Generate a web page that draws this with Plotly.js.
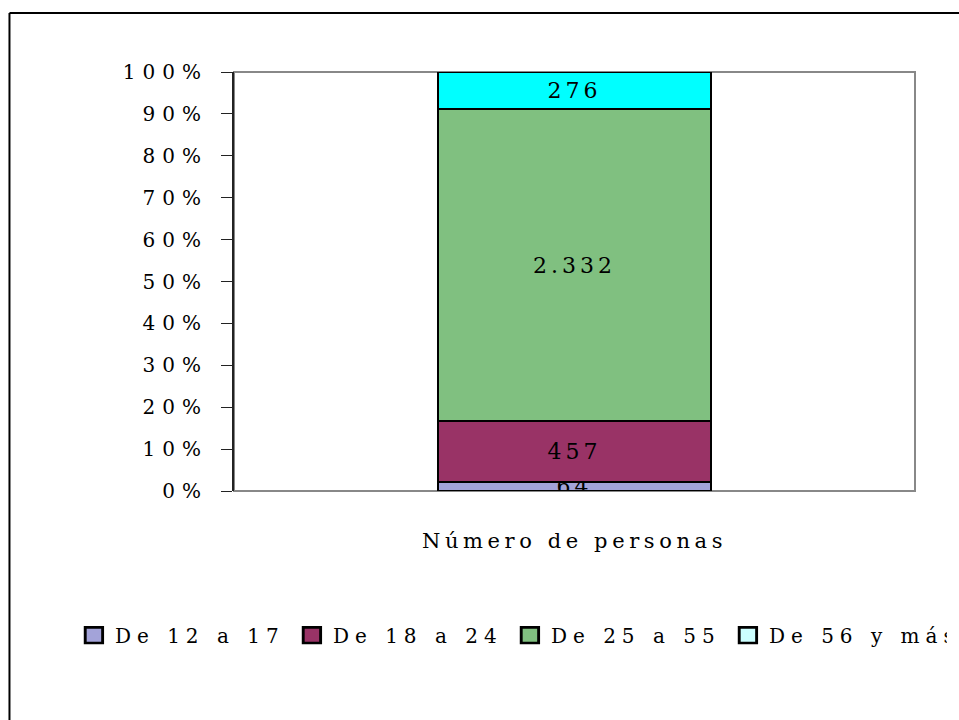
<!DOCTYPE html>
<html>
<head>
<meta charset="utf-8">
<script src="https://cdn.plot.ly/plotly-3.0.1.min.js"></script>
<style>
  html, body { margin: 0; padding: 0; background: #fff; }
  #chart { width: 959px; height: 720px; }
  #chart .ytick text { letter-spacing: 7px; }
  #chart .xtick text { letter-spacing: 4.6px; }
  #chart text.bartext { letter-spacing: 4px; }
  #chart .legend text { letter-spacing: 6px; }
  #chart .legendpoints path { transform: translate(19px, 0px) scale(1.45, 1.3); }
  #chart .legend .traces:nth-child(4) .legendpoints path { fill: #ccffff !important; }
</style>
</head>
<body>
<div id="chart"></div>
<script>
// Data
const categories = ['Número de personas'];
const seriesNames = ['De 12 a 17', 'De 18 a 24', 'De 25 a 55', 'De 56 y más'];
const v12a17 = [64];
const v18a24 = [457];
const v25a55 = [2332];
const v56mas = [276];
const yTickVals = [0, 10, 20, 30, 40, 50, 60, 70, 80, 90, 100];
const yTickText = ['0%', '10%', '20%', '30%', '40%', '50%', '60%', '70%', '80%', '90%', '100%'];

const colors = ['#a3a3d9', '#993366', '#80c080', '#00ffff'];
const seriesValues = [v12a17, v18a24, v25a55, v56mas];

function fmtES(n) {
  return String(n).replace(/\B(?=(\d{3})+(?!\d))/g, '.');
}

const traces = seriesValues.map((vals, i) => ({
  type: 'bar',
  name: seriesNames[i],
  x: categories,
  y: vals,
  text: vals.map(fmtES),
  textposition: 'inside',
  insidetextanchor: 'middle',
  constraintext: 'none',
  textangle: 0,
  textfont: { family: 'DejaVu Serif', size: 22, color: '#000' },
  marker: { color: colors[i], line: { color: '#000', width: 2 } },
  hoverinfo: 'skip'
}));

const layout = {
  width: 959,
  height: 720,
  paper_bgcolor: '#fff',
  plot_bgcolor: '#fff',
  barmode: 'stack',
  barnorm: 'percent',
  bargap: 0.598,
  margin: { l: 234, r: 44, t: 72, b: 229, pad: 0 },
  showlegend: true,
  legend: {
    orientation: 'h',
    x: -0.2336,
    xanchor: 'left',
    y: -0.344,
    yanchor: 'middle',
    font: { family: 'DejaVu Serif', size: 20, color: '#000' },
    traceorder: 'normal',
    entrywidth: 173,
    entrywidthmode: 'pixels',
    itemclick: false
  },
  xaxis: {
    type: 'category',
    showgrid: false,
    zeroline: false,
    showline: false,
    ticks: '',
    tickfont: { family: 'DejaVu Serif', size: 21, color: '#000' },
    ticklabelstandoff: 35
  },
  yaxis: {
    range: [0, 100],
    tickvals: yTickVals,
    ticktext: yTickText,
    showgrid: false,
    zeroline: false,
    showline: true,
    linecolor: '#222',
    linewidth: 2,
    ticks: 'outside',
    ticklen: 11,
    tickwidth: 1,
    tickcolor: '#222',
    tickfont: { family: 'DejaVu Serif', size: 20, color: '#000' },
    ticklabelstandoff: 9
  },
  shapes: [
    { type: 'rect', xref: 'paper', yref: 'paper', x0: 0, x1: 1, y0: 0, y1: 1,
      line: { color: '#888', width: 2 }, layer: 'below' },
    { type: 'line', xref: 'paper', yref: 'paper', x0: -0.3297, x1: -0.3297, y0: 1.1408, y1: -1,
      line: { color: '#000', width: 2 } },
    { type: 'line', xref: 'paper', yref: 'paper', x0: -0.3297, x1: 2, y0: 1.1408, y1: 1.1408,
      line: { color: '#000', width: 2 } }
  ]
};

Plotly.newPlot('chart', traces, layout, { displayModeBar: false, staticPlot: true });
</script>
</body>
</html>
